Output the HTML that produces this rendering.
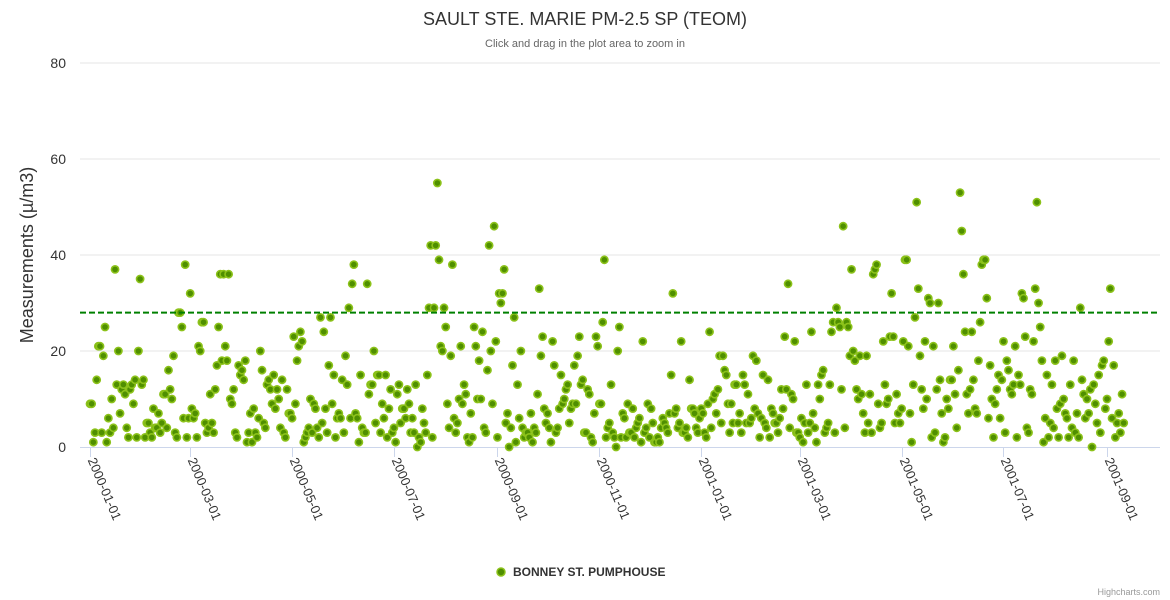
<!DOCTYPE html>
<html><head><meta charset="utf-8">
<style>
html,body{margin:0;padding:0;background:#fff;}
svg{display:block;font-family:"Liberation Sans","DejaVu Sans",sans-serif;}
</style></head>
<body>
<svg id="chart" width="1170" height="600" viewBox="0 0 1170 600">
  <text x="585" y="25" text-anchor="middle" font-size="18" fill="#333">SAULT STE. MARIE PM-2.5 SP (TEOM)</text>
  <text x="585" y="47" text-anchor="middle" font-size="11" fill="#666">Click and drag in the plot area to zoom in</text>
  <g id="grid"></g>
  <g id="yaxis"></g>
  <text transform="translate(33,255) rotate(-90)" text-anchor="middle" font-size="18" fill="#333">Measurements (µ/m3)</text>
  <g id="xaxis"></g>
  <g id="points"></g>
  <line id="thresh" x1="80" x2="1160" stroke="#008000" stroke-width="2" stroke-dasharray="6,3"></line>
  <g>
    <circle cx="501" cy="572" r="4" fill="#4f8f00" stroke="#8cc21a" stroke-width="1.5"></circle>
    <text x="513" y="576" font-size="12" font-weight="bold" fill="#333">BONNEY ST. PUMPHOUSE</text>
  </g>
  <text x="1160" y="595" text-anchor="end" font-size="9" fill="#999">Highcharts.com</text>
</svg>
<script>
const startDate = Date.UTC(2000,0,1);
const yTicks = [0,20,40,60,80];
const xTickLabels = ["2000-01-01","2000-03-01","2000-05-01","2000-07-01","2000-09-01","2000-11-01","2001-01-01","2001-03-01","2001-05-01","2001-07-01","2001-09-01"];
const thresholdValue = 28;
const dailyValues = [
9,9,1,3,14,21,21,3,19,25,1,6,3,10,4,37,13,20,7,12,
13,11,4,2,12,13,9,14,2,20,35,13,14,2,5,5,3,2,8,4,
4,7,3,5,11,11,4,16,12,10,19,3,2,28,28,25,6,38,2,6,
32,8,6,7,2,21,20,26,26,5,3,4,11,5,3,12,17,25,36,18,
36,21,18,36,10,9,12,3,2,17,15,16,14,18,1,3,7,1,8,3,
2,6,20,16,5,4,13,14,12,9,15,8,12,10,4,14,3,2,12,7,
7,6,23,9,18,21,24,22,1,2,3,4,10,3,9,8,4,2,27,5,
24,8,3,17,27,9,15,2,6,7,6,14,3,19,13,29,6,34,38,7,
6,1,15,4,3,3,34,11,13,13,20,5,15,15,3,9,6,15,2,8,
12,3,4,1,11,13,5,8,8,6,12,9,3,6,3,13,0,2,1,8,
5,3,15,29,42,2,29,42,55,39,21,20,29,25,9,4,19,38,6,3,
5,10,21,9,13,11,2,1,7,2,25,21,10,18,10,24,4,3,16,42,
20,9,46,22,2,32,30,32,37,5,7,0,4,17,27,1,13,6,20,4,
2,3,3,2,7,1,4,3,11,33,19,23,8,5,7,4,1,22,17,3,
4,8,15,9,10,12,13,5,8,9,17,9,19,23,13,14,3,3,12,11,
2,1,7,23,21,9,9,26,39,2,4,5,13,3,2,0,20,25,2,7,
6,2,9,3,3,8,2,4,5,6,1,22,3,4,9,2,8,5,1,1,
2,1,4,6,5,4,3,7,15,32,7,8,4,5,22,3,3,4,2,14,
8,8,7,4,3,6,8,7,3,2,9,24,4,10,11,7,12,19,5,19,
16,15,9,3,9,5,13,13,5,7,3,15,13,5,11,5,6,19,8,18,
7,2,6,15,5,4,14,2,8,7,5,5,3,6,12,8,23,12,34,4,
11,10,22,3,3,2,6,1,5,13,3,5,24,7,4,1,13,10,15,16,
3,4,5,13,24,26,3,29,26,25,12,46,4,26,25,19,37,20,18,12,
10,19,11,7,3,19,5,11,3,36,37,38,9,4,5,22,13,9,10,23,
32,23,5,11,7,5,8,22,39,39,21,7,1,13,27,51,33,19,12,8,
22,10,31,30,2,21,3,12,30,14,7,1,2,10,8,14,14,21,11,4,
16,53,45,36,24,11,7,12,24,14,8,7,18,26,38,39,39,31,6,17,
10,2,9,12,15,6,14,22,3,18,16,12,11,13,21,2,15,13,32,31,
23,4,3,12,11,22,33,51,30,25,18,1,6,15,2,5,13,4,18,8,
2,9,19,10,7,6,2,13,4,18,3,7,2,29,14,11,6,10,7,12,
0,13,9,5,15,3,17,18,8,10,22,33,6,17,2,5,7,3,11,5
];

const NS = "http://www.w3.org/2000/svg";
const DAY = 86400000;
const plotLeft = 80, plotRight = 1160, plotTop = 63, plotBottom = 447;
const x0 = 90, pxPerDay = 1.67;
function xScale(t){ return x0 + (t - startDate)/DAY * pxPerDay; }
function yScale(v){ return plotBottom - (v/80)*(plotBottom-plotTop); }
function mk(tag, attrs, parent){ const e=document.createElementNS(NS,tag); for(const k in attrs) e.setAttribute(k,attrs[k]); parent.appendChild(e); return e; }

const grid = document.getElementById('grid');
const yaxis = document.getElementById('yaxis');
yTicks.forEach(v=>{
  const y = yScale(v);
  if (v>0) {
    const l = mk('line',{x1:plotLeft,x2:plotRight,y1:y,y2:y,stroke:'#e6e6e6','stroke-width':1},grid);
    
    
  }
  const t = mk('text',{x:66,y:y+5,'text-anchor':'end','font-size':14,fill:'#333'},yaxis);
  t.textContent = v;
  
  
});

const xaxis = document.getElementById('xaxis');
const axl = mk('line',{x1:plotLeft,x2:plotRight,y1:plotBottom+0.5,y2:plotBottom+0.5,stroke:'#ccd6eb','stroke-width':1},xaxis);


xTickLabels.forEach(s=>{
  const p = s.split('-').map(Number);
  const x = Math.round(xScale(Date.UTC(p[0],p[1]-1,p[2])))+0.5;
  const tk = mk('line',{x1:x,x2:x,y1:plotBottom,y2:plotBottom+10,stroke:'#ccd6eb','stroke-width':1},xaxis);
  
  
  const t = mk('text',{x:0,y:0,'font-size':13,fill:'#333',transform:`translate(${x-3},${plotBottom+13}) rotate(67)`},xaxis);
  t.textContent = s;
  
  
});

const pts = document.getElementById('points');
dailyValues.forEach((v,i)=>{
  const c = mk('circle',{cx:xScale(startDate+i*DAY),cy:yScale(v),r:3.6,fill:'#4f8f00',stroke:'#8cc21a','stroke-width':1.6},pts);
  
  
});

const th = document.getElementById('thresh');
th.setAttribute('y1', yScale(thresholdValue));
th.setAttribute('y2', yScale(thresholdValue));
</script>
</body></html>
